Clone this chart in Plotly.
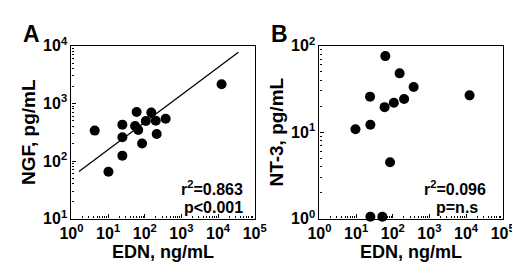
import plotly.graph_objects as go

# Panel A: EDN vs NGF
edn_a = [4.3, 10.2, 24.5, 24.5, 24.5, 60, 54.5, 66.5, 84.5, 107, 151, 200, 212, 372, 12500]
ngf_a = [337, 65, 428, 258, 124, 707, 405, 346, 201, 495, 692, 501, 295, 540, 2143]
fit_x = [1.6, 36000]
fit_y = [65.6, 7730]

# Panel B: EDN vs NT-3
edn_b = [9.6, 24, 24.5, 24.5, 52, 62.6, 60, 84.5, 107, 154, 204, 372, 12500]
nt3_b = [10.8, 25.8, 12.2, 1.05, 1.05, 76, 19.5, 4.5, 21.9, 48, 24.2, 33.3, 26.7]

x_tickvals = [1, 10, 100, 1000, 10000, 100000]
x_ticktext = ["10<sup>0</sup>", "10<sup>1</sup>", "10<sup>2</sup>",
              "10<sup>3</sup>", "10<sup>4</sup>", "10<sup>5</sup>"]
ya_tickvals = [10, 100, 1000, 10000]
ya_ticktext = ["10<sup>1</sup>", "10<sup>2</sup>", "10<sup>3</sup>", "10<sup>4</sup>"]
yb_tickvals = [1, 10, 100]
yb_ticktext = ["10<sup>0</sup>", "10<sup>1</sup>", "10<sup>2</sup>"]

stats_a = ["r<sup>2</sup>=0.863", "p<0.001"]
stats_b = ["r<sup>2</sup>=0.096", "p=n.s"]

FONT = "Liberation Sans, Arial, Helvetica, sans-serif"

fig = go.Figure()
mk = dict(color="black", size=10)
fig.add_trace(go.Scatter(x=edn_a, y=ngf_a, mode="markers", marker=mk, xaxis="x", yaxis="y", showlegend=False))
fig.add_trace(go.Scatter(x=fit_x, y=fit_y, mode="lines", line=dict(color="black", width=1.3), xaxis="x", yaxis="y", showlegend=False))
fig.add_trace(go.Scatter(x=edn_b, y=nt3_b, mode="markers", marker=mk, xaxis="x2", yaxis="y2", showlegend=False, cliponaxis=False))

TICKFONT = dict(family=FONT, size=16, color="black", weight="bold")

def xax(domain, anchor):
    return dict(type="log", range=[0, 5], domain=domain, anchor=anchor,
                tickvals=x_tickvals, ticktext=x_ticktext, ticks="inside", ticklen=4,
                tickcolor="black", tickwidth=1,
                minor=dict(ticks="inside", ticklen=2.5, tickcolor="black", dtick="D1", showgrid=False),
                showline=True, linecolor="black", linewidth=1.3, mirror=True,
                showgrid=False, zeroline=False,
                tickfont=TICKFONT,
                title=dict(text="<b>EDN, ng/mL</b>", font=dict(family=FONT, size=18, color="black"), standoff=2))

def yax(domain, anchor, rng, tv, tt, title):
    return dict(type="log", range=rng, domain=domain, anchor=anchor,
                tickvals=tv, ticktext=tt, ticks="inside", ticklen=4,
                tickcolor="black", tickwidth=1,
                minor=dict(ticks="inside", ticklen=2.5, tickcolor="black", dtick="D1", showgrid=False),
                showline=True, linecolor="black", linewidth=1.3, mirror=True,
                showgrid=False, zeroline=False,
                tickfont=TICKFONT,
                title=dict(text="<b>" + title + "</b>", font=dict(family=FONT, size=19, color="black"), standoff=2))

def note(text, x, y, xanchor):
    return dict(text="<b>" + text + "</b>", xref="paper", yref="paper", x=x, y=y,
                xanchor=xanchor, yanchor="middle", showarrow=False,
                font=dict(family=FONT, size=16, color="black"))

ydom = [0.1818, 0.8902]
fig.update_layout(
    width=520, height=264, autosize=False,
    margin=dict(l=0, r=0, t=0, b=0),
    paper_bgcolor="white", plot_bgcolor="white",
    xaxis=xax([0.1038, 0.4731], "y"),
    yaxis=yax(ydom, "x", [1, 4], ya_tickvals, ya_ticktext, "NGF, pg/mL"),
    xaxis2=xax([0.6038, 0.9731], "y2"),
    yaxis2=yax(ydom, "x2", [0, 2], yb_tickvals, yb_ticktext, "NT-3, pg/mL"),
    annotations=[
        dict(text="<b>A</b>", xref="paper", yref="paper", x=0.002, y=1.0, xanchor="left", yanchor="top",
             showarrow=False, font=dict(family=FONT, size=23, color="black")),
        dict(text="<b>B</b>", xref="paper", yref="paper", x=0.502, y=1.0, xanchor="left", yanchor="top",
             showarrow=False, font=dict(family=FONT, size=23, color="black")),
        note(stats_a[0], 0.453, 0.306, "right"),
        note(stats_a[1], 0.453, 0.226, "right"),
        note(stats_b[0], 0.943, 0.306, "right"),
        note(stats_b[1], 0.881, 0.226, "center"),
    ],
)
fig.write_html("out.html")
